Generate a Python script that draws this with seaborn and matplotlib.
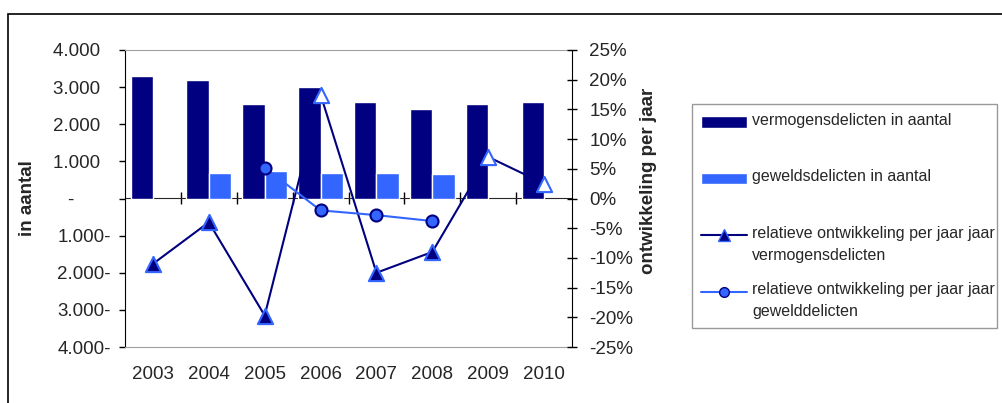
import numpy as np
import pandas as pd
import seaborn as sns
import matplotlib.pyplot as plt
from matplotlib.patches import Patch, Rectangle
from matplotlib.lines import Line2D
from matplotlib.legend_handler import HandlerPatch, HandlerLine2D
from matplotlib.ticker import FuncFormatter

# data
jaren = ['2003', '2004', '2005', '2006', '2007', '2008', '2009', '2010']
vermogens = [3300, 3200, 2550, 3000, 2600, 2400, 2550, 2600]
geweld = [np.nan, 700, 750, 700, 700, 650, np.nan, np.nan]
rel_vermogens = [-11.0, -4.0, -19.7, 17.5, -12.5, -9.0, 7.0, 2.5]
rel_geweld = [np.nan, np.nan, 5.2, -2.0, -2.8, -3.8, np.nan, np.nan]

navy = '#000080'
licht = '#3366FF'

sns.set_style('white')
plt.rcParams['font.family'] = ['Liberation Sans', 'DejaVu Sans']

bars = pd.DataFrame({
    'jaar': jaren * 2,
    'aantal': vermogens + geweld,
    'reeks': ['vermogensdelicten'] * 8 + ['geweldsdelicten'] * 8,
})
lijnen = pd.DataFrame({'pos': np.arange(len(jaren)), 'verm': rel_vermogens, 'gew': rel_geweld})

fig = plt.figure(figsize=(10.02, 4.03), dpi=100)
ax = fig.add_axes([125 / 1002, 1 - 347 / 403, 447 / 1002, 297 / 403])

sns.barplot(data=bars, x='jaar', y='aantal', hue='reeks', palette=[navy, licht],
            width=0.8, saturation=1, errorbar=None, legend=False, ax=ax)

ax.set_ylim(-4000, 4000)
ax.set_yticks(range(-4000, 4001, 1000))


def fmt_aantal(v, pos):
    if v == 0:
        return '-' + ' ' * 7
    s = f'{abs(v):,.0f}'.replace(',', '.')
    return s + '  ' if v > 0 else s + '-'


ax.yaxis.set_major_formatter(FuncFormatter(fmt_aantal))
ax.tick_params(axis='y', direction='out', length=4, width=1, color='black', pad=6, labelsize=13.5)
ax.tick_params(axis='x', length=0, pad=14, labelsize=13.5)
ax.set_xlabel('')
ax.set_ylabel('in aantal', fontsize=13.5, fontweight='bold')
ax.yaxis.set_label_coords(-0.198, 0.5)

for s in ['top', 'bottom']:
    ax.spines[s].set_color('#A0A0A0')
ax.spines['left'].set_color('black')
ax.spines['right'].set_visible(False)

# category axis through zero
sec = ax.secondary_xaxis(0.5)
sec.set_xticks(np.arange(0.5, 7, 1))
sec.set_xticklabels([])
sec.tick_params(direction='inout', length=8, width=1, color='black')
sec.spines['bottom'].set_color('black')

ax2 = ax.twinx()
sns.lineplot(data=lijnen, x='pos', y='verm', color=navy, lw=1.5, ax=ax2)
sns.lineplot(data=lijnen, x='pos', y='gew', color=licht, lw=1.5, ax=ax2)
sns.scatterplot(data=lijnen[lijnen.verm < 0], x='pos', y='verm', marker='^', s=120,
                color=navy, edgecolor=licht, linewidth=1.5, ax=ax2, zorder=3)
sns.scatterplot(data=lijnen[lijnen.verm > 0], x='pos', y='verm', marker='^', s=120,
                color='white', edgecolor=licht, linewidth=1.5, ax=ax2, zorder=3)
sns.scatterplot(data=lijnen.dropna(subset=['gew']), x='pos', y='gew', marker='o', s=75,
                color=licht, edgecolor=navy, linewidth=1.5, ax=ax2, zorder=3)

ax2.set_ylim(-25, 25)
ax2.set_yticks(range(-25, 26, 5))
ax2.yaxis.set_major_formatter(FuncFormatter(lambda v, p: f'{v:.0f}%'))
ax2.tick_params(axis='y', direction='inout', length=7, width=1, color='black', pad=9, labelsize=13.5)
ax2.set_xlabel('')
ax2.set_ylabel('ontwikkeling per jaar', fontsize=13.5, fontweight='bold')
ax2.yaxis.set_label_coords(1.152, 0.56)
for s in ['top', 'bottom', 'left']:
    ax2.spines[s].set_visible(False)
ax2.spines['right'].set_color('black')

ax.set_xlim(-0.5, 7.5)

# legend: handles sit at the first text line
OMHOOG = 6.8


class PatchOmhoog(HandlerPatch):
    def create_artists(self, legend, orig_handle, xdescent, ydescent, width, height, fontsize, trans):
        return super().create_artists(legend, orig_handle, xdescent, ydescent - OMHOOG,
                                      width, height, fontsize, trans)


class LijnOmhoog(HandlerLine2D):
    def create_artists(self, legend, orig_handle, xdescent, ydescent, width, height, fontsize, trans):
        return super().create_artists(legend, orig_handle, xdescent, ydescent - 2 * OMHOOG,
                                      width, height, fontsize, trans)


handles = [
    Patch(facecolor=navy),
    Patch(facecolor=licht),
    Line2D([], [], color=navy, lw=1.5, marker='^', ms=8, mfc=navy, mec=licht),
    Line2D([], [], color=licht, lw=1.5, marker='o', ms=7, mfc=licht, mec=navy),
]
labels = [
    'vermogensdelicten in aantal\n',
    'geweldsdelicten in aantal\n',
    'relatieve ontwikkeling per jaar jaar\nvermogensdelicten',
    'relatieve ontwikkeling per jaar jaar\ngewelddelicten',
]
leg = fig.legend(handles, labels, loc='upper left',
                 bbox_to_anchor=(692 / 1002, 1 - 104 / 403, 305 / 1002, 0), mode='expand',
                 frameon=True, fancybox=False, edgecolor='#808080', fontsize=11.5,
                 handlelength=2.9, handletextpad=0.3, labelspacing=1.25,
                 borderpad=0.55, borderaxespad=0,
                 handler_map={Patch: PatchOmhoog(), Line2D: LijnOmhoog()})
leg.get_frame().set_linewidth(1)
for t in leg.get_texts():
    t.set_linespacing(1.55)

fig.patches.append(Rectangle((8 / 1002, -0.1), 1.1, 1.1 - 14 / 403, transform=fig.transFigure,
                             fill=False, edgecolor='black', lw=1.2))

fig.savefig('out.png', dpi=100)
